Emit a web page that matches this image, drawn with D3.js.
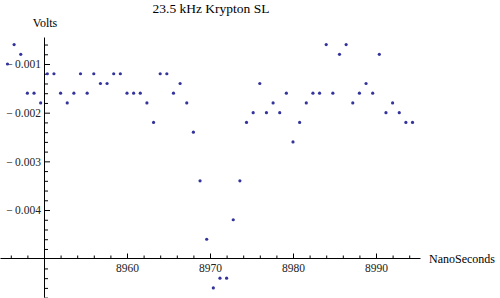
<!DOCTYPE html>
<html lang="en">
  <head>
    <meta charset="UTF-8" />
    <script src="https://d3js.org/d3.v7.min.js"></script>
    <title>23.5 kHz Krypton SL</title>
    <style>
      body { margin: 0; background: #fff; }
      svg { display: block; font-family: "Liberation Serif", "DejaVu Serif", serif; }
    </style>
  </head>
  <body>
    <div id="chart"></div>
    <script>
      // sample times (ns) and voltages
      const times = [
        8945.6, 8946.4, 8947.2, 8948.0, 8948.8, 8949.6, 8950.4, 8951.2, 8952.0, 8952.8,
        8953.6, 8954.4, 8955.2, 8956.0, 8956.8, 8957.6, 8958.4, 8959.2, 8960.0, 8960.8,
        8961.6, 8962.4, 8963.2, 8964.0, 8964.8, 8965.6, 8966.4, 8967.2, 8968.0, 8968.8,
        8969.6, 8970.4, 8971.2, 8972.0, 8972.8, 8973.6, 8974.4, 8975.2, 8976.0, 8976.8,
        8977.6, 8978.4, 8979.2, 8980.0, 8980.8, 8981.6, 8982.4, 8983.2, 8984.0, 8984.8,
        8985.6, 8986.4, 8987.2, 8988.0, 8988.8, 8989.6, 8990.4, 8991.2, 8992.0, 8992.8,
        8993.6, 8994.4
      ];
      const volts = [
        -0.0010, -0.0006, -0.0008, -0.0016, -0.0016, -0.0018, -0.0012, -0.0012, -0.0016, -0.0018,
        -0.0016, -0.0012, -0.0016, -0.0012, -0.0014, -0.0014, -0.0012, -0.0012, -0.0016, -0.0016,
        -0.0016, -0.0018, -0.0022, -0.0012, -0.0012, -0.0016, -0.0014, -0.0018, -0.0024, -0.0034,
        -0.0046, -0.0056, -0.0054, -0.0054, -0.0042, -0.0034, -0.0022, -0.0020, -0.0014, -0.0020,
        -0.0018, -0.0020, -0.0016, -0.0026, -0.0022, -0.0018, -0.0016, -0.0016, -0.0006, -0.0016,
        -0.0008, -0.0006, -0.0018, -0.0016, -0.0014, -0.0016, -0.0008, -0.0020, -0.0018, -0.0020,
        -0.0022, -0.0022
      ];
      const xMajor = [8960, 8970, 8980, 8990];
      const xMinor = [8946, 8948, 8952, 8954, 8956, 8958, 8962, 8964, 8966, 8968,
        8972, 8974, 8976, 8978, 8982, 8984, 8986, 8988, 8992, 8994];
      const yMajor = [-0.001, -0.002, -0.003, -0.004];
      const yMinor = [-0.0006, -0.0008, -0.0012, -0.0014, -0.0016, -0.0018, -0.0022, -0.0024,
        -0.0026, -0.0028, -0.0032, -0.0034, -0.0036, -0.0038, -0.0042, -0.0044, -0.0046,
        -0.0048, -0.0052, -0.0054, -0.0056, -0.0058];

      const data = times.map((t, i) => ({ t: t, v: volts[i] }));

      const width = 500, height = 298;

      const svg = d3
        .select("#chart")
        .append("svg")
        .attr("width", width)
        .attr("height", height);

      // plot range: x axis runs 0..420 px, y axis 37..297 px
      const x = d3.scaleLinear().domain([8944.7, 8995.3]).range([0, 420]);
      const y = d3.scaleLinear().domain([-0.005787, -0.000445]).range([297, 37]);

      const x0 = Math.round(x(8950));
      const y0 = Math.floor(y(-0.005));

      // mathematica style minus with a little gap after it
      const fmtY = (d) => d3.format(".3f")(d).replace("\u2212", "\u2212\u2009");

      // y axis: ticks point inward (right), labels on the left
      svg
        .append("g")
        .attr("transform", `translate(${x0},0)`)
        .call(
          d3.axisLeft(y)
            .tickValues(yMajor)
            .tickSizeInner(-6)
            .tickSizeOuter(0)
            .tickPadding(3)
            .tickFormat(fmtY)
        )
        .style("font-size", "11.5px")
        .style("font-family", "Liberation Serif");
      svg
        .append("g")
        .attr("transform", `translate(${x0},0)`)
        .call(d3.axisLeft(y).tickValues(yMinor).tickSize(-4).tickFormat(""))
        .select(".domain")
        .remove();

      // x axis at -0.005 V, ticks pointing up
      svg
        .append("g")
        .attr("transform", `translate(0,${y0})`)
        .call(
          d3.axisBottom(x)
            .tickValues(xMajor)
            .tickSizeInner(-4.5)
            .tickSizeOuter(0)
            .tickPadding(6)
            .tickFormat(d3.format("d"))
        )
        .style("font-size", "11.5px")
        .style("font-family", "Liberation Serif");
      svg
        .append("g")
        .attr("transform", `translate(0,${y0})`)
        .call(d3.axisBottom(x).tickValues(xMinor).tickSize(-2.5).tickFormat(""))
        .select(".domain")
        .remove();

      svg.selectAll(".tick text").attr("fill", "#222");

      // points
      svg
        .selectAll("circle.pt")
        .data(data)
        .join("circle")
        .attr("class", "pt")
        .attr("cx", (d) => x(d.t))
        .attr("cy", (d) => y(d.v))
        .attr("r", 1.6)
        .attr("fill", "#33339c");

      // labels
      svg
        .append("text")
        .attr("x", 211)
        .attr("y", 13)
        .attr("text-anchor", "middle")
        .style("font-size", "13.5px")
        .text("23.5 kHz Krypton SL");

      svg
        .append("text")
        .attr("x", x0 + 1)
        .attr("y", 26.5)
        .attr("text-anchor", "middle")
        .style("font-size", "12px")
        .text("Volts");

      svg
        .append("text")
        .attr("x", 429)
        .attr("y", 263)
        .style("font-size", "12px")
        .text("NanoSeconds");
    </script>
  </body>
</html>
